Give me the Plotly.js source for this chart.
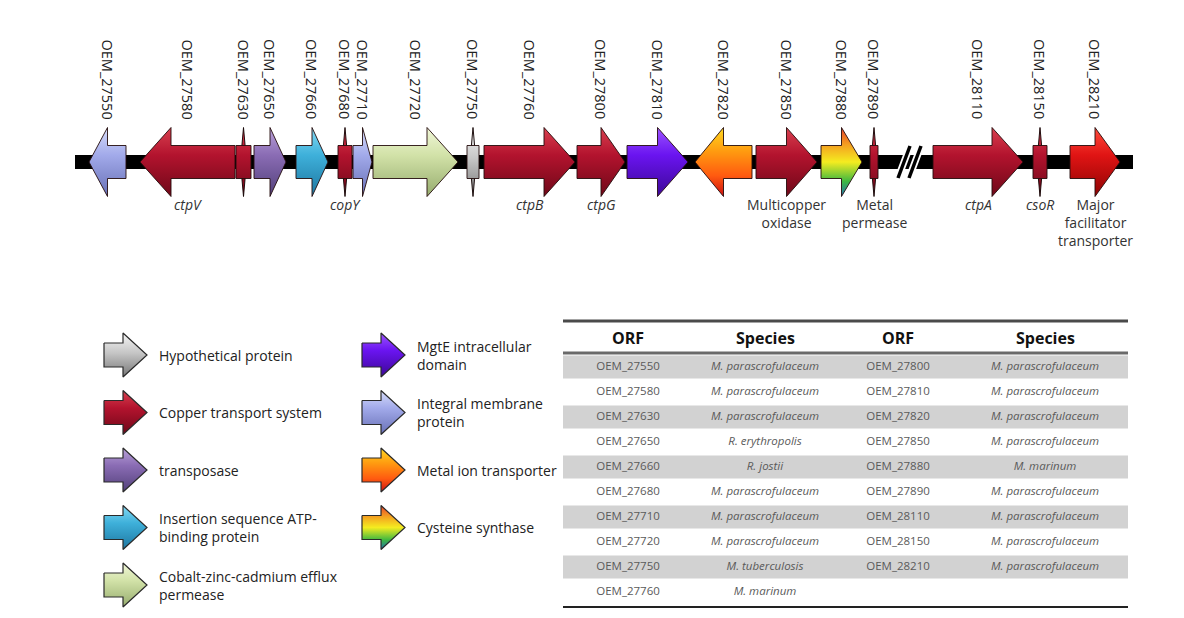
<!DOCTYPE html>
<html><head><meta charset="utf-8">
<script src="https://cdn.plot.ly/plotly-3.0.1.min.js"></script>
<style>html,body{margin:0;padding:0;background:#fff}#chart{width:1184px;height:618px}</style>
</head><body><div id="chart"></div>
<script>
// ---------------- DATA ----------------
// Gene map (positions in map units along the contig)
const geneIds = ['OEM_27550','OEM_27580','OEM_27630','OEM_27650','OEM_27660','OEM_27680','OEM_27710','OEM_27720','OEM_27750','OEM_27760','OEM_27800','OEM_27810','OEM_27820','OEM_27850','OEM_27880','OEM_27890','OEM_28110','OEM_28150','OEM_28210'];
const geneStart = [89,140,236,254,296,338,353,373,467,484,577,627,695,756,821,870,933,1033,1070];
const geneEnd   = [126,235,251,286,328,352,372,458,479,575,625,688,752,817,862,878,1023,1047,1120];
const geneStrand = [-1,-1,1,1,1,1,1,1,1,1,1,1,-1,1,1,1,1,1,1];
const geneCategory = ['integral','copper','copper','transposase','insertion','copper','integral','cobalt','hyp','copper','copper','mgte','metalion','copper','cysteine','copper','copper','copper','mfs'];
const geneNames = ['','ctpV','','','','copY','','','','ctpB','ctpG','','','Multicopper<br>oxidase','','Metal<br>permease','ctpA','csoR','Major<br>facilitator<br>transporter'];
const geneNameItalic = [false,true,false,false,false,true,false,false,false,true,true,false,false,false,false,false,true,true,false];
const contigStart = 75, contigEnd = 1133, contigBreak = 909;

// Legend
const legendCategories = ['hyp','copper','transposase','insertion','cobalt','mgte','integral','metalion','cysteine'];
const legendLabels = ['Hypothetical protein','Copper transport system','transposase','Insertion sequence ATP-<br>binding protein','Cobalt-zinc-cadmium efflux<br>permease','MgtE intracellular<br>domain','Integral membrane<br>protein','Metal ion transporter','Cysteine synthase'];

// Table
const tableHeaders = ['ORF','Species','ORF','Species'];
const tableOrfLeft = ['OEM_27550','OEM_27580','OEM_27630','OEM_27650','OEM_27660','OEM_27680','OEM_27710','OEM_27720','OEM_27750','OEM_27760'];
const tableSpeciesLeft = ['M. parascrofulaceum','M. parascrofulaceum','M. parascrofulaceum','R. erythropolis','R. jostii','M. parascrofulaceum','M. parascrofulaceum','M. parascrofulaceum','M. tuberculosis','M. marinum'];
const tableOrfRight = ['OEM_27800','OEM_27810','OEM_27820','OEM_27850','OEM_27880','OEM_27890','OEM_28110','OEM_28150','OEM_28210'];
const tableSpeciesRight = ['M. parascrofulaceum','M. parascrofulaceum','M. parascrofulaceum','M. parascrofulaceum','M. marinum','M. parascrofulaceum','M. parascrofulaceum','M. parascrofulaceum','M. parascrofulaceum'];

// ---------------- STYLE ----------------
const palette = {
  hyp:        [[0,'#f6f6f6'],[0.45,'#c6c6c6'],[1,'#767676']],
  copper:     [[0,'#d8404f'],[0.4,'#b3132e'],[1,'#6e0818']],
  transposase:[[0,'#baa2da'],[0.4,'#8a6cb4'],[1,'#52407a']],
  insertion:  [[0,'#84daf4'],[0.4,'#3eb0da'],[1,'#1e76a0']],
  cobalt:     [[0,'#f0f6d8'],[0.4,'#d2e2a8'],[1,'#96ac6e']],
  mgte:       [[0,'#9c54ff'],[0.4,'#6a14f0'],[1,'#3c0896']],
  integral:   [[0,'#d6dcfa'],[0.4,'#a2aaea'],[1,'#6870b6']],
  metalion:   [[0,'#ffd820'],[0.35,'#ff9a10'],[0.7,'#ff5a10'],[1,'#cc1010']],
  cysteine:   [[0,'#e8402a'],[0.25,'#f4a020'],[0.5,'#f4ec20'],[0.78,'#40b840'],[1,'#2070b0']],
  mfs:        [[0,'#ff4c3c'],[0.4,'#e01414'],[1,'#8e0404']]
};
const FONT = 'Open Sans, Noto Sans, DejaVu Sans, sans-serif';
const trackY = 162, bodyHalf = 16.5, headHalf = 34.5, headMax = 31, spikeThreshold = 18;
const outline = {color:'rgba(35,12,12,0.9)', width:1};

const traces = [];
const shapes = [];
const annotations = [];

function polyTrace(xs, ys, cat, y0, y1, lineStyle) {
  return {type:'scatter', mode:'lines', x:xs, y:ys, fill:'toself', line:lineStyle || outline,
    fillcolor: palette[cat][1][1],
    fillgradient:{type:'vertical', colorscale:palette[cat], start:y0, stop:y1},
    hoverinfo:'skip', showlegend:false};
}

// backbone
traces.push({type:'scatter', mode:'lines', x:[contigStart, contigEnd], y:[trackY, trackY],
  line:{color:'#000', width:14}, hoverinfo:'skip', showlegend:false});
// break mark //
[-5, 6].forEach(d => {
  traces.push({type:'scatter', mode:'lines', x:[contigBreak+d-6, contigBreak+d+6], y:[trackY+16, trackY-16],
    line:{color:'#fff', width:7}, hoverinfo:'skip', showlegend:false});
  traces.push({type:'scatter', mode:'lines', x:[contigBreak+d-6, contigBreak+d+6], y:[trackY+16, trackY-16],
    line:{color:'#000', width:3.5}, hoverinfo:'skip', showlegend:false});
});

// genes
const ht = trackY - headHalf, hb = trackY + headHalf, bt = trackY - bodyHalf, bb = trackY + bodyHalf;
geneIds.forEach((id, i) => {
  const s = geneStart[i], e = geneEnd[i], len = e - s, cat = geneCategory[i], c = (s + e) / 2;
  if (len < spikeThreshold) {
    // thin spike first, then the body drawn over it
    traces.push(polyTrace([c, c+1.6, c+1.6, c, c-1.6, c-1.6, c],[ht, bt, bb, hb, bb, bt, ht], cat, ht, hb,
      {color:'rgba(20,5,5,0.95)', width:1}));
    traces.push(polyTrace([s,e,e,s,s],[bt,bt,bb,bb,bt], cat, ht, hb));
  } else {
    const h = Math.min(headMax, len / 2);
    let xs;
    if (geneStrand[i] > 0) {
      const b = e - h;
      xs = [s, b, b, e, b, b, s, s];
    } else {
      const b = s + h;
      xs = [e, b, b, s, b, b, e, e];
    }
    const ys = [bt, bt, ht, trackY, hb, bb, bb, bt];
    traces.push(polyTrace(xs, ys, cat, ht, hb));
  }
  annotations.push({x:c, y:37, xref:'x', yref:'y', text:id, textangle:90, showarrow:false,
    xanchor:'center', yanchor:'top', font:{family:FONT, size:14.5, color:'#222'}});
  if (geneNames[i]) {
    annotations.push({x:c, y:193, xref:'x', yref:'y', text: geneNameItalic[i] ? '<i>'+geneNames[i]+'</i>' : geneNames[i],
      showarrow:false, xanchor:'center', yanchor:'top', align:'center',
      font:{family:FONT, size:14, color:'#333'}});
  }
});

// legend
const legCols = [{ax:104, tx:157, n:5}, {ax:362, tx:415, n:4}];
const legY0 = 355, legDy = 57.5, legW = 43, legHead = 24, legBodyHalf = 12, legHeadHalf = 22;
let k = 0;
legCols.forEach(col => {
  for (let r = 0; r < col.n; r++, k++) {
    const cy = legY0 + r * legDy, x0 = col.ax, x1 = col.ax + legW, b = x1 - legHead;
    traces.push(polyTrace([x0,b,b,x1,b,b,x0,x0],
      [cy-legBodyHalf, cy-legBodyHalf, cy-legHeadHalf, cy, cy+legHeadHalf, cy+legBodyHalf, cy+legBodyHalf, cy-legBodyHalf],
      legendCategories[k], cy-legHeadHalf, cy+legHeadHalf, {color:'#2a2a2a', width:1.2}));
    annotations.push({x:col.tx, y:cy, xref:'x', yref:'y', text:legendLabels[k], showarrow:false,
      xanchor:'left', yanchor:'middle', align:'left', font:{family:FONT, size:14, color:'#222'}});
  }
});

// table
const tX0 = 563, tX1 = 1128, colX = [628, 765, 898, 1045];
const tTop = 321, tHeadY = 338, tHeadLine = 353, rowY0 = 367, rowH = 25, tBottom = 607;
const nRows = Math.max(tableOrfLeft.length, tableOrfRight.length);
for (let r = 0; r < nRows; r += 2) {
  shapes.push({type:'rect', xref:'x', yref:'y', x0:tX0, x1:tX1, y0:rowY0 + r*rowH - 11.5, y1:rowY0 + r*rowH + 11.5,
    fillcolor:'#d2d2d2', line:{width:0}, layer:'below'});
}
shapes.push({type:'line', xref:'x', yref:'y', x0:tX0, x1:tX1, y0:tTop, y1:tTop, line:{color:'#4a4a4a', width:3}});
shapes.push({type:'line', xref:'x', yref:'y', x0:tX0, x1:tX1, y0:tHeadLine, y1:tHeadLine, line:{color:'#6a6a6a', width:3}});
shapes.push({type:'line', xref:'x', yref:'y', x0:tX0, x1:tX1, y0:tBottom, y1:tBottom, line:{color:'#222', width:2}});
tableHeaders.forEach((h, j) => {
  annotations.push({x:colX[j], y:tHeadY, xref:'x', yref:'y', text:'<b>'+h+'</b>', showarrow:false,
    xanchor:'center', yanchor:'middle', font:{family:FONT, size:16, color:'#111'}});
});
const cellCols = [tableOrfLeft, tableSpeciesLeft, tableOrfRight, tableSpeciesRight];
cellCols.forEach((arr, j) => {
  traces.push({type:'scatter', mode:'text', x:arr.map(() => colX[j]), y:arr.map((_, r) => rowY0 + r*rowH),
    text: arr.map(t => j % 2 ? '<i>'+t+'</i>' : t), textposition:'middle center',
    textfont:{family:FONT, size:11.5, color:'#5a5a5a'}, hoverinfo:'skip', showlegend:false, cliponaxis:false});
});

const layout = {
  width:1184, height:618, margin:{l:0, r:0, t:0, b:0},
  paper_bgcolor:'#fff', plot_bgcolor:'#fff', showlegend:false,
  xaxis:{range:[0,1184], visible:false, fixedrange:true},
  yaxis:{range:[618,0], visible:false, fixedrange:true},
  shapes, annotations
};
Plotly.newPlot('chart', traces, layout, {staticPlot:true, displayModeBar:false});
</script>
</body></html>
